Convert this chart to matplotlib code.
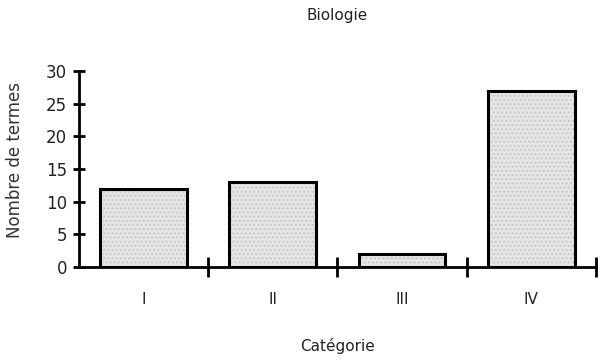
import numpy as np
import matplotlib
matplotlib.use("Agg")
import matplotlib.pyplot as plt

# ── données ───────────────────────────────────────────
CATEGORIES = ["I", "II", "III", "IV"]
VALUES     = [12, 13, 2, 27]
Y_TICKS    = [0, 5, 10, 15, 20, 25, 30]

TITLE  = "Biologie"
XLABEL = "Catégorie"
YLABEL = "Nombre de termes"

plt.rcParams["font.family"] = ["DejaVu Sans"]

fig = plt.figure(figsize=(6.02, 3.64), dpi=100)
ax = fig.add_axes([0.131, 0.266, 0.859, 0.539])

x = np.arange(len(CATEGORIES))
# trame grise claire, puis contour noir épais
ax.bar(x, VALUES, width=0.67, color="#e6e6e6", edgecolor="#c8c8c8",
       linewidth=0, hatch="....", zorder=2)
ax.bar(x, VALUES, width=0.67, fill=False, edgecolor="black",
       linewidth=2.2, zorder=3)

ax.set_xlim(-0.5, len(CATEGORIES) - 0.5)
ax.set_ylim(0, 30)

for s in ["top", "right"]:
    ax.spines[s].set_visible(False)
for s in ["left", "bottom"]:
    ax.spines[s].set_linewidth(2)

ax.set_yticks(Y_TICKS)
ax.set_yticklabels([str(v) for v in Y_TICKS], fontsize=12, color="#222222")
ax.tick_params(axis="y", direction="inout", length=9, width=2, pad=4)

# étiquettes au centre, graduations aux limites des catégories
ax.set_xticks(x)
ax.set_xticklabels(CATEGORIES, fontsize=11, color="#222222")
ax.tick_params(axis="x", which="major", length=0, pad=18)
ax.set_xticks(np.arange(len(CATEGORIES)) + 0.5, minor=True)
ax.tick_params(axis="x", which="minor", direction="inout", length=14, width=2)

ax.set_title(TITLE, fontsize=11, color="#222222", pad=37)
ax.set_xlabel(XLABEL, fontsize=11, color="#222222", labelpad=22)
fig.text(15 / 602, 1 - 160 / 364, YLABEL, rotation=90, fontsize=12,
         color="#333333", ha="center", va="center")

fig.savefig("out.png", dpi=100)
